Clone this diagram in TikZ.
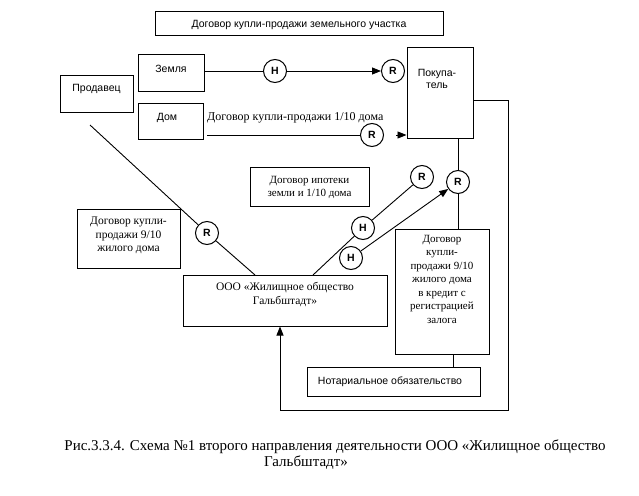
\documentclass[tikz,border=0pt]{standalone}
\usepackage{fontspec}
\setmainfont{Liberation Serif}
\newfontfamily\sansf{Liberation Sans}
\usetikzlibrary{arrows.meta}
\tikzset{
  x=1pt,y=-1pt,
  box/.style={draw,line width=1pt,inner sep=0pt},
  stxt/.style={font=\sansf\fontsize{10.5}{12.5}\selectfont,align=center,inner sep=0pt},
  rtxt/.style={font=\fontsize{12}{13.5}\selectfont,align=center,inner sep=0pt},
  circ/.style={draw,circle,line width=1pt,minimum size=23pt,inner sep=0pt,font=\sansf\bfseries\fontsize{10.5}{10.5}\selectfont},
  conn/.style={line width=0.9pt},
  arr/.style={line width=0.9pt,-{Triangle[length=9pt,width=7pt]}},
}
\begin{document}
\begin{tikzpicture}
\useasboundingbox (0,0) rectangle (639,495);
% boxes
\node[box,minimum width=288pt,minimum height=24pt] (top) at (299,24) {};
\node[stxt] (topt) at (299,25) {Договор купли-продажи земельного участка};
\node[box,minimum width=73pt,minimum height=37pt] (prod) at (96.5,93.5) {};
\node[stxt] (prodt) at (96.5,89) {Продавец};
\node[box,minimum width=66pt,minimum height=36pt] (zem) at (171,73) {};
\node[stxt] (zemt) at (171,69) {Земля};
\node[box,minimum width=65pt,minimum height=36pt] (dom) at (170.5,121) {};
\node[stxt] (domt) at (167,118) {Дом};
\node[box,minimum width=66pt,minimum height=90pt] (pok) at (440,93) {};
\node[stxt,anchor=north] (pokt) at (437,69) {Покупа-\\тель};
\node[box,minimum width=103pt,minimum height=59pt] (d910) at (128.5,238.5) {};
\node[rtxt,font=\fontsize{11.5}{13.5}\selectfont] (d910t) at (128.5,235.5) {Договор купли-\\продажи 9/10\\жилого дома};
\node[box,minimum width=119pt,minimum height=39pt] (ipo) at (309.5,186.5) {};
\node[rtxt,font=\fontsize{11}{13}\selectfont] (ipot) at (309.5,187.5) {Договор ипотеки\\земли и 1/10 дома};
\node[box,minimum width=204pt,minimum height=51pt] (ooo) at (285,300.5) {};
\node[rtxt,font=\fontsize{11.5}{14}\selectfont,anchor=north] (ooot) at (285,282) {ООО «Жилищное общество\\Гальбштадт»};
\node[box,minimum width=94pt,minimum height=125pt] (dk) at (442,291.5) {};
\node[rtxt,font=\fontsize{11}{13.5}\selectfont,anchor=north] (dkt) at (442,235) {Договор\\купли-\\продажи 9/10\\жилого дома\\в кредит с\\регистрацией\\залога};
\node[box,minimum width=173pt,minimum height=29pt] (not) at (393.5,381.5) {};
\node[stxt] (nott) at (390,382) {Нотариальное обязательство};
% circles
\node[circ] (h1) at (275,71) {H};
\node[circ] (r1) at (393,71) {R};
\node[circ] (r2) at (372,135) {R};
\node[circ] (r3) at (207,233) {R};
\node[circ] (h2) at (363,228) {H};
\node[circ] (h3) at (351,258) {H};
\node[circ] (r4) at (422,177) {R};
\node[circ] (r5) at (458,182) {R};
% text on the 1/10 line
\node[rtxt,anchor=west] (dogt) at (207,118) {Договор купли-продажи 1/10 дома};
% coordinates
\coordinate (domL) at (207,135);
\coordinate (r2a) at (396,135);
\coordinate (sl) at (90,125);
\coordinate (oo1) at (255,275);
\coordinate (oo2) at (313,275);
\coordinate (lp0) at (508,100);
\coordinate (lp1) at (508,410);
\coordinate (lp2) at (280,410);
\coordinate (dkb) at (453,354);
% connectors
\draw[conn] (zem.east |- h1) -- (h1);
\draw[arr] (h1) -- (r1);
\draw[conn] (domL) -- (r2);
\draw[arr] (r2a) -- (pok.west |- r2a);
\draw[conn] (sl) -- (r3);
\draw[conn] (r3) -- (oo1);
\draw[conn] (oo2) -- (h2);
\draw[conn] (h2) -- (r4);
\draw[arr] (h3) -- (r5);
\draw[conn] (pok.south -| r5) -- (r5);
\draw[conn] (r5) -- (dk.north -| r5);
\draw[conn] (dkb) -- (not.north -| dkb);
\draw[arr] (pok.east |- lp0) -- (lp0) -- (lp1) -- (lp2) -- (ooo.south -| lp2);
% caption
\node[rtxt,font=\fontsize{15}{16}\selectfont] (cap1) at (335,447) {Рис.3.3.4. Схема №1 второго направления деятельности ООО «Жилищное общество};
\node[rtxt,font=\fontsize{15}{16}\selectfont] (cap2) at (306,463) {Гальбштадт»};
\end{tikzpicture}
\end{document}
